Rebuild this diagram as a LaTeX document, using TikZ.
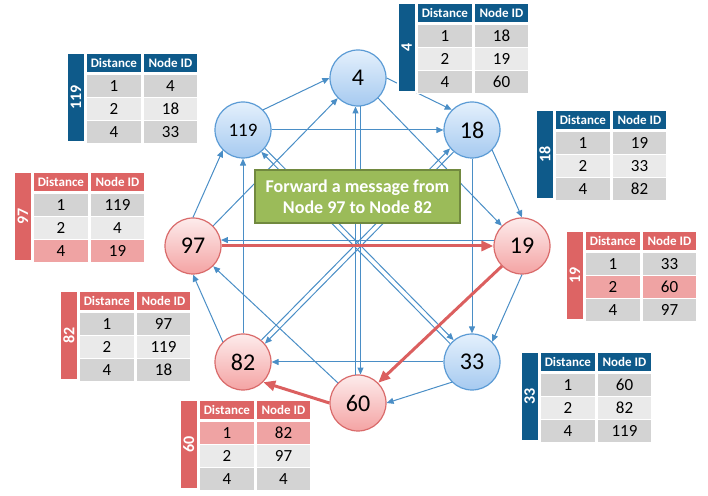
\documentclass[tikz,border=0pt]{standalone}
\usepackage{fontspec}
\setmainfont{Carlito}
\usetikzlibrary{arrows.meta,calc,positioning,shadows}
\definecolor{ringblue}{HTML}{5B9BD5}
\definecolor{ringbluetop}{HTML}{E4F0FC}
\definecolor{ringbluebot}{HTML}{A6CAF0}
\definecolor{ringred}{HTML}{D96A6A}
\definecolor{ringredtop}{HTML}{FDECEC}
\definecolor{ringredbot}{HTML}{F4A3A3}
\definecolor{linkblue}{HTML}{4A8EC6}
\definecolor{pathred}{HTML}{DB5F5F}
\definecolor{tabblue}{HTML}{0E5A8A}
\definecolor{tabred}{HTML}{DD6464}
\definecolor{rowdark}{HTML}{D3D3D3}
\definecolor{rowlight}{HTML}{EAEAEA}
\definecolor{rowhot}{HTML}{EFA3A3}
\definecolor{msggreen}{HTML}{9BBB59}
\definecolor{msggreendark}{HTML}{71893F}
\tikzset{
  bluering/.style={circle, draw=ringblue, line width=0.6pt, top color=ringbluetop, bottom color=ringbluebot, minimum size=28pt, inner sep=0pt, font=\fontsize{12}{14}\selectfont},
  redring/.style={circle, draw=ringred, line width=0.6pt, top color=ringredtop, bottom color=ringredbot, minimum size=28pt, inner sep=0pt, font=\fontsize{12}{14}\selectfont},
  link/.style={linkblue, line width=0.5pt, -{Triangle[length=3.5pt,width=3pt]}},
  hoplink/.style={pathred, line width=1.5pt, -{Triangle[length=6pt,width=5pt]}},
  msgbox/.style={draw=msggreendark, line width=0.8pt, fill=msggreen, text=white, align=center, font=\bfseries\fontsize{9}{10.5}\selectfont, minimum width=102.5pt, minimum height=26.5pt},
  tablebox/.style={fill=white, drop shadow={shadow xshift=1pt, shadow yshift=-1pt, opacity=0.35}, minimum width=64pt, minimum height=44.5pt, inner sep=0pt, anchor=north west},
  idcell/.style={draw=white, line width=0.8pt, inner sep=0pt, anchor=north west, minimum width=9pt, minimum height=44.5pt, text=white, font=\bfseries\fontsize{8}{9}\selectfont},
  headcell/.style={draw=white, line width=0.8pt, inner sep=0pt, anchor=north west, minimum width=27.5pt, minimum height=10pt, text=white, font=\bfseries\fontsize{6.5}{7.5}\selectfont},
  cell/.style={draw=white, line width=0.8pt, inner sep=0pt, anchor=north west, minimum width=27.5pt, minimum height=11.5pt, font=\fontsize{8.5}{9.5}\selectfont}
}
% finger table: name, top-left corner, head colour, node id, rows (fill/distance/node)
\newcommand{\fingertable}[5]{%
  \node[tablebox] (#1) at (#2) {};
  \node[idcell, fill=#3] (#1-id) at (#1.north west) {\rotatebox{90}{#4}};
  \node[headcell, fill=#3] (#1-hd) at (#1-id.north east) {Distance};
  \node[headcell, fill=#3] (#1-hn) at (#1-hd.north east) {Node ID};
  \foreach \rowfill/\fdist/\fnode [count=\r] in {#5} {
    \node[cell, fill=\rowfill, yshift={-(\r-1)*11.5pt}] (#1-d\r) at (#1-hd.south west) {\fdist};
    \node[cell, fill=\rowfill] (#1-n\r) at (#1-d\r.north east) {\fnode};
  }%
}

\begin{document}
\begin{tikzpicture}[x=0.5pt, y=-0.5pt]
  \useasboundingbox (0,0) rectangle (708,496);
  % ring of nodes
  \node[bluering] (n4) at (358,78) {4};
  \node[bluering] (n18) at (472,130) {18};
  \node[redring] (n19) at (522,246) {19};
  \node[bluering] (n33) at (472,362) {33};
  \node[redring] (n60) at (358,403) {60};
  \node[redring] (n82) at (243,362) {82};
  \node[redring] (n97) at (193,246) {97};
  \node[bluering, font=\fontsize{9.5}{11}\selectfont] (n119) at (243,130) {119};
  % fingers
  \draw[link] (n4.east) -- (n18.north west);
  \draw[link] (n4.south east) -- (n19.north west);
  \draw[link] (n4.-85) -- (n60.85);
  \draw[link] (n18.south east) -- (n19.north);
  \draw[link] (n18.south) -- (n33.north);
  \draw[link] (n18.-130) -- (n82.40);
  \draw[link] (n19.south) -- (n33.north east);
  \draw[link] (n19.168) -- (n97.12);
  \draw[link] (n33.south west) -- (n60.east);
  \draw[link] (n33.west) -- (n82.east);
  \draw[link] (n33.140) -- (n119.-50);
  \draw[link] (n60.north west) -- (n97.south east);
  \draw[link] (n60.95) -- (n4.-95);
  \draw[link] (n82.north west) -- (n97.south);
  \draw[link] (n82.north) -- (n119.south);
  \draw[link] (n82.50) -- (n18.-140);
  \draw[link] (n97.north) -- (n119.south west);
  \draw[link] (n97.north east) -- (n4.south west);
  \draw[link] (n119.north east) -- (n4.west);
  \draw[link] (n119.east) -- (n18.west);
  \draw[link] (n119.-40) -- (n33.130);
  % route of the message
  \draw[hoplink] (n97.east) -- (n19.west);
  \draw[hoplink] (n19.south west) -- (n60.north east);
  \draw[hoplink] (n60.west) -- (n82.south east);
  \node[msgbox] (msg) at (357.5,196.5) {Forward a message from\\Node 97 to Node 82};
  % finger tables
  \fingertable{t4}{397,2}{tabblue}{4}{rowdark/1/18, rowlight/2/19, rowdark/4/60}
  \fingertable{t18}{535,109}{tabblue}{18}{rowdark/1/19, rowlight/2/33, rowdark/4/82}
  \fingertable{t19}{565,230}{tabred}{19}{rowdark/1/33, rowhot/2/60, rowdark/4/97}
  \fingertable{t33}{520,351}{tabblue}{33}{rowdark/1/60, rowlight/2/82, rowdark/4/119}
  \fingertable{t60}{179,399}{tabred}{60}{rowhot/1/82, rowlight/2/97, rowdark/4/4}
  \fingertable{t82}{59,290}{tabred}{82}{rowdark/1/97, rowlight/2/119, rowdark/4/18}
  \fingertable{t97}{13,171}{tabred}{97}{rowdark/1/119, rowlight/2/4, rowhot/4/19}
  \fingertable{t119}{66,52}{tabblue}{119}{rowdark/1/4, rowlight/2/18, rowdark/4/33}
\end{tikzpicture}
\end{document}
